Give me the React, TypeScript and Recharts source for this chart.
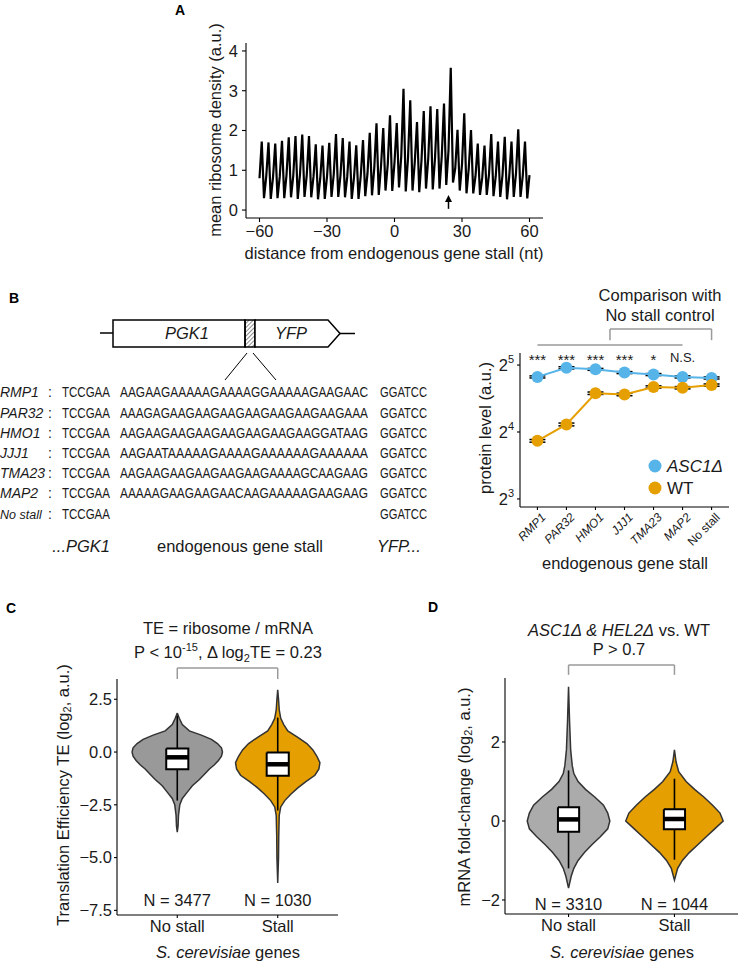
import React from "react";
import {
  LineChart,
  Line,
  ScatterChart,
  Scatter,
  XAxis,
  YAxis,
  ReferenceLine,
  ReferenceDot,
  ErrorBar,
} from "recharts";

const FONT = '"Liberation Sans", Arial, Helvetica, sans-serif';
const INK = "#1a1a1a";
const ORANGE = "#E69F00";
const BLUE = "#56B4E9";
const GREY_C = "#999999";
const GREY_D = "#ABABAB";
const BRACKET = "#9a9a9a";
const OUTLINE = "#333333";

// ---- A: mean ribosome density around the stall, one value per nt (-60..60)
// frame 0 = mid value, frame 1 = peak, frame 2 = trough
const framePeak = [1.72, 1.7, 1.67, 1.74, 1.83, 1.86, 1.9, 1.86, 1.65, 1.62, 1.69, 1.91, 1.81, 1.72, 1.63, 1.76, 1.94, 2.18, 2.06, 2.38, 2.19, 3.05, 2.76, 2.21, 2.49, 2.61, 2.54, 2.68, 3.58, 2.02, 2.43, 2.01, 1.67, 1.62, 1.91, 1.72, 1.84, 1.72, 2.03, 1.72];
const frameLow = [0.3, 0.28, 0.3, 0.3, 0.32, 0.28, 0.33, 0.32, 0.27, 0.28, 0.33, 0.33, 0.32, 0.28, 0.28, 0.35, 0.37, 0.38, 0.49, 0.48, 0.57, 0.47, 0.49, 0.45, 0.54, 0.52, 0.54, 0.63, 0.69, 0.49, 0.42, 0.42, 0.38, 0.38, 0.35, 0.33, 0.27, 0.33, 0.33, 0.29];
const frameMid = [0.8, 0.85, 0.82, 0.84, 0.88, 0.86, 0.9, 0.88, 0.84, 0.8, 0.84, 0.9, 0.88, 0.84, 0.82, 0.86, 0.92, 1.05, 1.1, 1.15, 1.2, 1.35, 1.3, 1.2, 1.25, 1.3, 1.3, 1.35, 1.5, 1.05, 1.15, 1.05, 0.85, 0.82, 0.9, 0.85, 0.88, 0.85, 0.92, 0.86, 0.88];
const ntTicks = [-60, -30, 0, 30, 60];
const densityTicks = [0, 1, 2, 3, 4];
const stallArrowNt = 24;

const profile = frameMid.flatMap((mid, k) => {
  const rows = [{ nt: 3 * k - 60, v: mid }];
  if (k < framePeak.length) {
    rows.push({ nt: 3 * k - 59, v: framePeak[k] });
    rows.push({ nt: 3 * k - 58, v: frameLow[k] });
  }
  return rows;
});

// ---- B: reporter sequences + protein level
const seqGenes = ["RMP1", "PAR32", "HMO1", "JJJ1", "TMA23", "MAP2", "No stall"];
const stallSeqs = [
  "AAGAAGAAAAAGAAAAGGAAAAAGAAGAAC",
  "AAAGAGAAGAAGAAGAAGAAGAAGAAGAAA",
  "AAGAAGAAGAAGAAGAAGAAGAAGGATAAG",
  "AAGAATAAAAAGAAAAGAAAAAAGAAAAAA",
  "AAGAAGAAGAAGAAGAAGAAAAGCAAGAAG",
  "AAAAAGAAGAAGAACAAGAAAAAGAAGAAG",
  "",
];
const asc1Level = [28.3, 31.1, 30.6, 29.6, 29.0, 28.3, 28.0];
const wtLevel = [14.6, 17.3, 23.9, 23.6, 25.5, 25.3, 26.0];
const asc1Err = [0.3, 0.35, 0.3, 0.3, 0.3, 0.3, 0.3];
const wtErr = [0.2, 0.25, 0.3, 0.3, 0.3, 0.3, 0.3];
const signif = ["***", "***", "***", "***", "*", "N.S."];
const levelTicks = [8, 16, 32];

const proteinRows = seqGenes.map((g, i) => ({
  i,
  asc1: asc1Level[i],
  wt: wtLevel[i],
  asc1Err: asc1Err[i],
  wtErr: wtErr[i],
}));

// ---- C/D: violins (value levels + half widths in category units)
const groups = ["No stall", "Stall"];

const teNoStallVals = [1.85, 1.6, 1.3, 1.0, 0.8, 0.6, 0.4, 0.2, 0.0, -0.2, -0.4, -0.6, -0.8, -1.0, -1.3, -1.6, -1.9, -2.2, -2.5, -3.0, -3.5, -3.8];
const teNoStallWidth = [0, 0.02, 0.05, 0.12, 0.24, 0.34, 0.4, 0.44, 0.45, 0.44, 0.41, 0.37, 0.32, 0.28, 0.22, 0.15, 0.1, 0.05, 0.025, 0.012, 0.008, 0];
const teStallVals = [2.95, 2.5, 2.0, 1.6, 1.3, 1.0, 0.7, 0.4, 0.1, -0.2, -0.5, -0.8, -1.1, -1.4, -1.7, -2.0, -2.3, -2.6, -3.0, -4.0, -5.0, -6.2];
const teStallWidth = [0, 0.008, 0.015, 0.03, 0.06, 0.1, 0.2, 0.29, 0.35, 0.39, 0.42, 0.41, 0.37, 0.28, 0.2, 0.13, 0.07, 0.03, 0.015, 0.01, 0.008, 0];
const teBoxes = [
  { q1: -0.82, med: -0.25, q3: 0.17, lo: -2.3, hi: 1.7 },
  { q1: -1.12, med: -0.58, q3: -0.02, lo: -2.77, hi: 1.63 },
];
const teCounts = [3477, 1030];

const fcNoStallVals = [3.4, 2.5, 1.8, 1.4, 1.2, 1.0, 0.8, 0.6, 0.4, 0.2, 0.0, -0.2, -0.4, -0.6, -0.8, -1.0, -1.2, -1.4, -1.7];
const fcNoStallWidth = [0, 0.01, 0.02, 0.035, 0.05, 0.09, 0.16, 0.25, 0.33, 0.37, 0.39, 0.37, 0.3, 0.22, 0.15, 0.09, 0.05, 0.025, 0];
const fcStallVals = [1.8, 1.5, 1.25, 1.0, 0.8, 0.6, 0.4, 0.2, 0.0, -0.2, -0.4, -0.6, -0.8, -1.0, -1.2, -1.5];
const fcStallWidth = [0, 0.015, 0.04, 0.11, 0.19, 0.28, 0.36, 0.43, 0.46, 0.38, 0.3, 0.22, 0.14, 0.075, 0.03, 0];
const fcBoxes = [
  { q1: -0.27, med: 0.04, q3: 0.35, lo: -1.2, hi: 1.28 },
  { q1: -0.21, med: 0.05, q3: 0.3, lo: -0.98, hi: 1.07 },
];
const fcCounts = [3310, 1044];

const minus = (v: number) => (v < 0 ? "\u2212" + Math.abs(v) : String(v));
const axisLine = { stroke: "#000", strokeWidth: 1.1 };
const tickText = { fontSize: 16.5, fill: INK };
const noMark = () => <g />;

function violinOutline(center: number, vals: number[], widths: number[]) {
  const right = vals.map((v, i) => ({ x: center + widths[i], y: v }));
  const left = vals.map((v, i) => ({ x: center - widths[i], y: v })).reverse();
  return right.concat(left);
}

function PowTick(props: any) {
  const { x, y, payload } = props;
  return (
    <text x={x} y={y} dy={6} textAnchor="end" fontSize={16.5} fill={INK}>
      2<tspan dy={-8} fontSize={11}>{Math.round(Math.log2(payload.value))}</tspan>
    </text>
  );
}

function StallTick(props: any) {
  const { x, y, payload } = props;
  const name = seqGenes[payload.value];
  return (
    <g transform={`translate(${x + 3},${y})`}>
      <text transform="rotate(-45)" textAnchor="end" dy="0.72em" fontSize={12} fill={INK} fontStyle={name === "No stall" ? "normal" : "italic"}>
        {name}
      </text>
    </g>
  );
}

type ViolinProps = {
  left: number;
  top: number;
  plotW: number;
  plotH: number;
  yw: number;
  yDomain: number[];
  yTicks: number[];
  yFmt: (v: number) => string;
  shapes: { vals: number[]; widths: number[]; fill: string }[];
  boxes: { q1: number; med: number; q3: number; lo: number; hi: number }[];
  boxHalf: number;
  counts: number[];
  countY: number;
  bracketY: number;
  bracketFoot: number;
};

function ViolinPanel(p: ViolinProps) {
  const mt = 16;
  return (
    <div style={{ position: "absolute", left: p.left - p.yw, top: p.top - mt }}>
      <ScatterChart width={p.yw + p.plotW + 2} height={mt + p.plotH + 30} margin={{ top: mt, right: 2, bottom: 0, left: 0 }}>
        <XAxis type="number" dataKey="x" domain={[-0.6, 1.6]} ticks={[0, 1]} tickFormatter={(v) => groups[v]} allowDataOverflow height={30} tick={tickText} axisLine={axisLine} tickLine={axisLine} tickSize={3} tickMargin={2} />
        <YAxis type="number" dataKey="y" domain={p.yDomain} ticks={p.yTicks} tickFormatter={p.yFmt} allowDataOverflow width={p.yw} tick={tickText} axisLine={axisLine} tickLine={axisLine} tickSize={3} tickMargin={2} />
        {p.shapes.map((s, i) => (
          <Scatter key={`violin${i}`} data={violinOutline(i, s.vals, s.widths)} line={{ stroke: OUTLINE, strokeWidth: 1.5, fill: s.fill }} lineJointType="linear" shape={noMark} isAnimationActive={false} legendType="none" />
        ))}
        {p.boxes.map((b, i) => (
          <Scatter key={`whisker${i}`} data={[{ x: i, y: b.lo }, { x: i, y: b.hi }]} line={{ stroke: "#000", strokeWidth: 1.6 }} shape={noMark} isAnimationActive={false} legendType="none" />
        ))}
        {p.boxes.map((b, i) => (
          <Scatter
            key={`box${i}`}
            data={[
              { x: i - p.boxHalf, y: b.q3 },
              { x: i + p.boxHalf, y: b.q3 },
              { x: i + p.boxHalf, y: b.q1 },
              { x: i - p.boxHalf, y: b.q1 },
              { x: i - p.boxHalf, y: b.q3 },
            ]}
            line={{ stroke: "#000", strokeWidth: 2, fill: "#fff", strokeLinejoin: "miter" }}
            shape={noMark}
            isAnimationActive={false}
            legendType="none"
          />
        ))}
        {p.boxes.map((b, i) => (
          <Scatter key={`median${i}`} data={[{ x: i - p.boxHalf, y: b.med }, { x: i + p.boxHalf, y: b.med }]} line={{ stroke: "#000", strokeWidth: 4.5 }} shape={noMark} isAnimationActive={false} legendType="none" />
        ))}
        {p.counts.map((n, i) => (
          <ReferenceDot key={`n${i}`} x={i} y={p.countY} r={0} ifOverflow="visible" shape={(d: any) => (
            <text x={d.cx} y={d.cy} dy={6} textAnchor="middle" fontSize={16.5} fill={INK}>{`N = ${n}`}</text>
          )} />
        ))}
        <ReferenceLine segment={[{ x: 0, y: p.bracketY }, { x: 1, y: p.bracketY }]} stroke={BRACKET} strokeWidth={1.5} ifOverflow="visible" />
        <ReferenceLine segment={[{ x: 0, y: p.bracketY }, { x: 0, y: p.bracketFoot }]} stroke={BRACKET} strokeWidth={1.5} ifOverflow="visible" />
        <ReferenceLine segment={[{ x: 1, y: p.bracketY }, { x: 1, y: p.bracketFoot }]} stroke={BRACKET} strokeWidth={1.5} ifOverflow="visible" />
      </ScatterChart>
    </div>
  );
}

export default function App() {
  const seqRowY = [392, 412.5, 433, 453, 473, 493, 514];
  return (
    <div style={{ position: "absolute", left: 0, top: 0, width: 740, height: 962, background: "#fff", fontFamily: FONT, overflow: "hidden" }}>
      {/* A */}
      <div style={{ position: "absolute", left: 202, top: 33 }}>
        <LineChart width={349} height={215} data={profile} margin={{ top: 10, right: 8, bottom: 0, left: 0 }}>
          <XAxis type="number" dataKey="nt" domain={[-66, 66]} ticks={ntTicks} tickFormatter={minus} allowDataOverflow height={30} tick={tickText} axisLine={axisLine} tickLine={axisLine} tickSize={4} tickMargin={3} />
          <YAxis type="number" domain={[-0.2, 4.2]} ticks={densityTicks} allowDataOverflow width={44} tick={tickText} axisLine={axisLine} tickLine={axisLine} tickSize={4} tickMargin={4} />
          <Line dataKey="v" type="linear" stroke="#000" strokeWidth={2.2} dot={false} isAnimationActive={false} />
          <ReferenceLine segment={[{ x: stallArrowNt, y: 0.03 }, { x: stallArrowNt, y: 0.3 }]} stroke="#000" strokeWidth={1.5} />
          <ReferenceDot x={stallArrowNt} y={0.38} r={0} shape={(d: any) => (
            <path d={`M${d.cx},${d.cy} l-3.5,7 l7,0 z`} fill="#000" />
          )} />
        </LineChart>
      </div>

      {/* B chart */}
      <div style={{ position: "absolute", left: 480, top: 323 }}>
        <LineChart width={259} height={239} data={proteinRows} margin={{ top: 30, right: 10, bottom: 0, left: 0 }}>
          <XAxis type="number" dataKey="i" domain={[-0.6, 6.6]} ticks={[0, 1, 2, 3, 4, 5, 6]} interval={0} allowDataOverflow height={55} tick={(t: any) => <StallTick {...t} />} axisLine={axisLine} tickLine={axisLine} tickSize={3} tickMargin={2} />
          <YAxis type="number" scale="log" domain={[7.36, 36.25]} ticks={levelTicks} allowDataOverflow width={40} tick={(t: any) => <PowTick {...t} />} axisLine={axisLine} tickLine={axisLine} tickSize={3} tickMargin={3} />
          <Line dataKey="asc1" type="linear" stroke={BLUE} strokeWidth={2} dot={{ r: 6, fill: BLUE, stroke: BLUE, strokeWidth: 0 }} isAnimationActive={false}>
            <ErrorBar dataKey="asc1Err" width={8} stroke="#000" strokeWidth={1.5} direction="y" />
          </Line>
          <Line dataKey="wt" type="linear" stroke={ORANGE} strokeWidth={2} dot={{ r: 6, fill: ORANGE, stroke: ORANGE, strokeWidth: 0 }} isAnimationActive={false}>
            <ErrorBar dataKey="wtErr" width={8} stroke="#000" strokeWidth={1.5} direction="y" />
          </Line>
          {signif.map((s, i) => (
            <ReferenceDot key={`sig${i}`} x={i} y={34.8} r={0} ifOverflow="visible" shape={(d: any) => (
              <text x={d.cx} y={d.cy} dy={s === "N.S." ? 5 : 8} textAnchor="middle" fontSize={s === "N.S." ? 13 : 15} fill={INK}>{s}</text>
            )} />
          ))}
          <ReferenceLine segment={[{ x: 0, y: 39.4 }, { x: 5, y: 39.4 }]} stroke={BRACKET} strokeWidth={1.5} ifOverflow="visible" />
          <ReferenceLine segment={[{ x: 2.5, y: 46.5 }, { x: 6, y: 46.5 }]} stroke={BRACKET} strokeWidth={1.5} ifOverflow="visible" />
          <ReferenceLine segment={[{ x: 2.5, y: 46.5 }, { x: 2.5, y: 41.4 }]} stroke={BRACKET} strokeWidth={1.5} ifOverflow="visible" />
          <ReferenceLine segment={[{ x: 6, y: 46.5 }, { x: 6, y: 41.4 }]} stroke={BRACKET} strokeWidth={1.5} ifOverflow="visible" />
        </LineChart>
      </div>

      {/* C */}
      <ViolinPanel
        left={117}
        top={679}
        plotW={221}
        plotH={236}
        yw={50}
        yDomain={[-7.72, 3.46]}
        yTicks={[-7.5, -5, -2.5, 0, 2.5]}
        yFmt={(v) => (v < 0 ? "\u2212" : "") + Math.abs(v).toFixed(1)}
        shapes={[
          { vals: teNoStallVals, widths: teNoStallWidth, fill: GREY_C },
          { vals: teStallVals, widths: teStallWidth, fill: ORANGE },
        ]}
        boxes={teBoxes}
        boxHalf={0.11}
        counts={teCounts}
        countY={-7.0}
        bracketY={3.98}
        bracketFoot={3.46}
      />

      {/* D */}
      <ViolinPanel
        left={505}
        top={678}
        plotW={233}
        plotH={236}
        yw={40}
        yDomain={[-2.355, 3.62]}
        yTicks={[-2, 0, 2]}
        yFmt={minus}
        shapes={[
          { vals: fcNoStallVals, widths: fcNoStallWidth, fill: GREY_D },
          { vals: fcStallVals, widths: fcStallWidth, fill: ORANGE },
        ]}
        boxes={fcBoxes}
        boxHalf={0.1}
        counts={fcCounts}
        countY={-2.1}
        bracketY={3.95}
        bracketFoot={3.7}
      />

      {/* text, diagram and sequences */}
      <svg width={740} height={962} style={{ position: "absolute", left: 0, top: 0, pointerEvents: "none" }} fontFamily={FONT} fill={INK}>
        <defs>
          <pattern id="hatch" width="3" height="3" patternUnits="userSpaceOnUse" patternTransform="rotate(45)">
            <line x1="0" y1="0" x2="0" y2="3" stroke="#000" strokeWidth="0.9" />
          </pattern>
        </defs>

        <g fontWeight="bold" fontSize={14} fill="#000">
          <text x={175} y={15}>A</text>
          <text x={9} y={303}>B</text>
          <text x={6} y={613}>C</text>
          <text x={428} y={612}>D</text>
        </g>

        <g fontSize={16.5}>
          <text transform="translate(215,130) rotate(-90)" textAnchor="middle" dominantBaseline="central">mean ribosome density (a.u.)</text>
          <text x={394} y={259} textAnchor="middle">distance from endogenous gene stall (nt)</text>

          <text transform="translate(485,428) rotate(-90)" textAnchor="middle" dominantBaseline="central">protein level (a.u.)</text>
          <text x={625} y={569} textAnchor="middle">endogenous gene stall</text>
          <text x={660} y={301} textAnchor="middle">Comparison with</text>
          <text x={660} y={321} textAnchor="middle">No stall control</text>

          <text transform="translate(63,795) rotate(-90)" textAnchor="middle" dominantBaseline="central">
            Translation Efficiency TE (log<tspan fontSize={11} dy={4}>2</tspan><tspan dy={-4}>, a.u.)</tspan>
          </text>
          <text x={228} y={634} textAnchor="middle">TE = ribosome / mRNA</text>
          <text x={228} y={658} textAnchor="middle">
            P &lt; 10<tspan fontSize={11} dy={-7}>-15</tspan><tspan dy={7}>, Δ log</tspan><tspan fontSize={11} dy={4}>2</tspan><tspan dy={-4}>TE = 0.23</tspan>
          </text>
          <text x={228} y={958} textAnchor="middle"><tspan fontStyle="italic">S. cerevisiae</tspan> genes</text>

          <text transform="translate(464,797) rotate(-90)" textAnchor="middle" dominantBaseline="central">
            mRNA fold-change (log<tspan fontSize={11} dy={4}>2</tspan><tspan dy={-4}>, a.u.)</tspan>
          </text>
          <text x={619} y={636} textAnchor="middle"><tspan fontStyle="italic">ASC1Δ &amp; HEL2Δ</tspan> vs. WT</text>
          <text x={619} y={655} textAnchor="middle">P &gt; 0.7</text>
          <text x={622} y={958} textAnchor="middle"><tspan fontStyle="italic">S. cerevisiae</tspan> genes</text>
        </g>

        {/* legend for B */}
        <circle cx={655} cy={466} r={6.5} fill={BLUE} />
        <text x={667} y={472} fontSize={17} fontStyle="italic">ASC1Δ</text>
        <circle cx={655} cy={488} r={6.5} fill={ORANGE} />
        <text x={667} y={494} fontSize={17}>WT</text>

        {/* reporter construct */}
        <g stroke="#000" strokeWidth={1.5} fill="none">
          <line x1={100} y1={333} x2={113} y2={333} />
          <rect x={113} y={320} width={132} height={27} fill="#fff" />
          <rect x={245} y={320} width={10} height={27} fill="url(#hatch)" />
          <path d="M255,320 L328,320 L340,333.5 L328,347 L255,347 Z" fill="#fff" />
          <line x1={340} y1={333.5} x2={355} y2={333.5} />
          <line x1={247} y1={353} x2={225} y2={380} strokeWidth={1} />
          <line x1={253} y1={353} x2={276} y2={380} strokeWidth={1} />
        </g>
        <text x={187} y={339} textAnchor="middle" fontSize={16.5} fontStyle="italic">PGK1</text>
        <text x={291} y={339} textAnchor="middle" fontSize={16.5} fontStyle="italic">YFP</text>

        {seqGenes.map((g, i) => (
          <g key={g}>
            <text x={0} y={seqRowY[i] + 5} fontStyle="italic" fontSize={g === "No stall" ? 12.5 : 14}>{g}</text>
            <text x={50} y={seqRowY[i] + 5} textAnchor="middle" fontSize={14}>:</text>
            <g transform={`translate(0,${seqRowY[i] + 5}) scale(1,1.16)`} fontSize={12.3}>
              <text x={62} y={0} textLength={48} lengthAdjust="spacingAndGlyphs">TCCGAA</text>
              {stallSeqs[i] ? (
                <text x={120} y={0} textLength={248} lengthAdjust="spacingAndGlyphs">{stallSeqs[i]}</text>
              ) : null}
              <text x={380} y={0} textLength={47} lengthAdjust="spacingAndGlyphs">GGATCC</text>
            </g>
          </g>
        ))}
        <text x={110} y={552} textAnchor="end" fontSize={16.5} fontStyle="italic">...PGK1</text>
        <text x={240} y={552} textAnchor="middle" fontSize={16.5}>endogenous gene stall</text>
        <text x={377} y={552} fontSize={16.5} fontStyle="italic">YFP...</text>
      </svg>
    </div>
  );
}
